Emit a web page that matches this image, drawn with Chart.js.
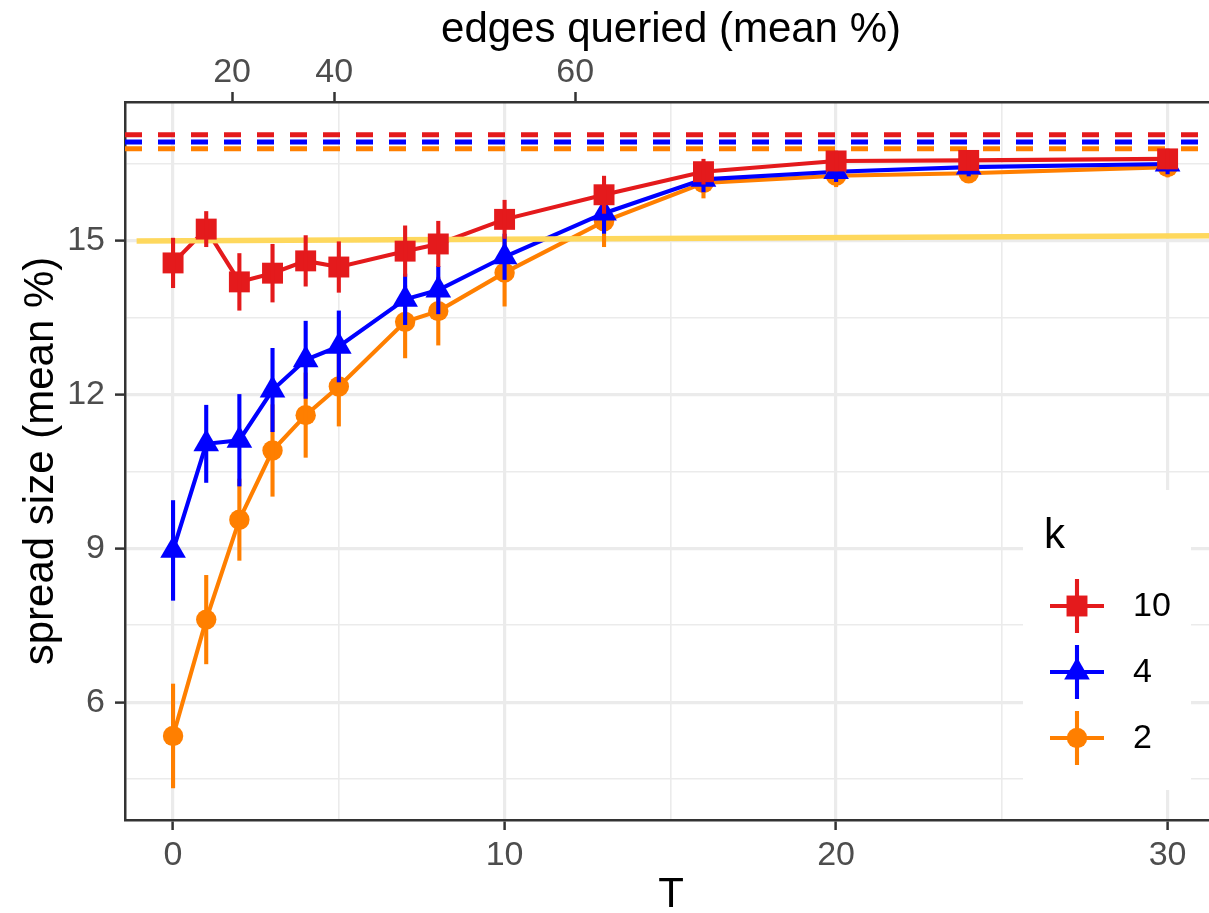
<!DOCTYPE html>
<html>
<head>
<meta charset="utf-8">
<script src="https://cdn.jsdelivr.net/npm/chart.js@4.4.1/dist/chart.umd.min.js"></script>
<style>
  html, body { margin: 0; padding: 0; background: #fff; overflow: hidden; }
  #wrap { position: relative; width: 1209px; height: 913px; overflow: hidden; }
  #c { display: block; }
</style>
</head>
<body>
<div id="wrap"><canvas id="c" width="1217" height="913"></canvas></div>
<script>
// ── data ───────────────────────────────────────────────
const T = [0, 1, 2, 3, 4, 5, 7, 8, 10, 13, 16, 20, 24, 30];

const k10    = [14.57, 15.23, 14.20, 14.37, 14.61, 14.49, 14.80, 14.94, 15.42, 15.90, 16.35, 16.56, 16.57, 16.60];
const k10Err = [0.49, 0.35, 0.56, 0.57, 0.50, 0.50, 0.50, 0.45, 0.38, 0.37, 0.25, 0.20, 0.19, 0.20];
const k4     = [8.96, 11.04, 11.11, 12.09, 12.68, 12.94, 13.86, 14.04, 14.69, 15.54, 16.20, 16.35, 16.44, 16.50];
const k4Err  = [0.98, 0.76, 0.90, 0.82, 0.76, 0.70, 0.50, 0.47, 0.45, 0.40, 0.25, 0.20, 0.18, 0.20];
const k2     = [5.34, 7.61, 9.56, 10.91, 11.60, 12.16, 13.42, 13.63, 14.38, 15.38, 16.13, 16.27, 16.32, 16.44];
const k2Err  = [1.02, 0.87, 0.80, 0.90, 0.83, 0.78, 0.71, 0.67, 0.66, 0.50, 0.30, 0.22, 0.18, 0.20];

// upper reference levels (dashed), one per k
const refLevel = { k10: 17.07, k4: 16.93, k2: 16.80 };

// yellow baseline
const baseX = [-1.1, 31.49];
const baseY = [15.0, 15.1];

// axes
const xMin = -1.45, xMax = 31.49;
const yMin = 3.70,  yMax = 17.71;
const xMajor = [0, 10, 20, 30];
const xMinor = [5, 15, 25];
const yMajor = [6, 9, 12, 15];
const yMinor = [4.5, 7.5, 10.5, 13.5, 16.5];

// top axis: edges queried (mean %) at T positions
const edgesPos    = [1.78, 4.86, 12.13];
const edgesLabels = ['20', '40', '60'];

const legendKeys = ['10', '4', '2'];

// ── styling ────────────────────────────────────────────
const FONT = '"Liberation Sans", Arial, sans-serif';
const COL = { k10: '#E41A1C', k4: '#0000FF', k2: '#FF7F00', base: '#FED85D', axis: '#333333', grid: '#EBEBEB', tick: '#4D4D4D' };
const MARK = { k10: ['rect', 14.8], k4: ['triangle', 14.8], k2: ['circle', 10.2] };
const LW = 4.1;

const pts = (xs, ys) => xs.map((x, i) => ({ x, y: ys[i] }));

function lineDs(key, ys, order) {
  return { data: pts(T, ys), borderColor: COL[key], borderWidth: LW, pointRadius: 0, tension: 0, order };
}
function pointDs(key, ys, err, order) {
  return {
    data: pts(T, ys), showLine: false, err,
    backgroundColor: COL[key], borderColor: COL[key],
    pointStyle: MARK[key][0], pointRadius: MARK[key][1], pointHoverRadius: MARK[key][1],
    pointBorderWidth: 0, order
  };
}
function refDs(key, order) {
  return { data: pts([xMin, xMax], [refLevel[key], refLevel[key]]), borderColor: COL[key], borderWidth: 5,
    borderDash: [17, 16], pointRadius: 0, order };
}

// ── plugins ────────────────────────────────────────────
const errBars = {
  id: 'errBars',
  afterDatasetDraw(chart, args) {
    const ds = chart.data.datasets[args.index];
    if (!ds.err) return;
    const { ctx, scales: { x, y } } = chart;
    ctx.save();
    ctx.strokeStyle = ds.borderColor;
    ctx.lineWidth = LW;
    ds.data.forEach((p, i) => {
      const px = x.getPixelForValue(p.x);
      ctx.beginPath();
      ctx.moveTo(px, y.getPixelForValue(p.y - ds.err[i]));
      ctx.lineTo(px, y.getPixelForValue(p.y + ds.err[i]));
      ctx.stroke();
    });
    ctx.restore();
  }
};

function drawMarker(ctx, style, x, y, r) {
  ctx.beginPath();
  if (style === 'rect') {
    const s = Math.SQRT1_2 * r;
    ctx.rect(x - s, y - s, 2 * s, 2 * s);
  } else if (style === 'triangle') {
    ctx.moveTo(x, y - r);
    ctx.lineTo(x + r * Math.sin(2 * Math.PI / 3), y + r * 0.5);
    ctx.lineTo(x - r * Math.sin(2 * Math.PI / 3), y + r * 0.5);
    ctx.closePath();
  } else {
    ctx.arc(x, y, r, 0, Math.PI * 2);
  }
  ctx.fill();
}

// legend drawn inside the panel, like ggplot's legend.position
const kLegend = {
  id: 'kLegend',
  afterDraw(chart) {
    const { ctx } = chart;
    const box = { l: 1023, t: 490, r: 1191, b: 790 };
    ctx.save();
    ctx.fillStyle = '#fff';
    ctx.fillRect(box.l, box.t, box.r - box.l, box.b - box.t);
    ctx.fillStyle = '#000';
    ctx.textBaseline = 'middle';
    ctx.font = `42px ${FONT}`;
    ctx.fillText('k', 1044, 536);
    ['k10', 'k4', 'k2'].forEach((key, i) => {
      const cy = 606 + i * 66, cx = 1077;
      ctx.strokeStyle = COL[key];
      ctx.fillStyle = COL[key];
      ctx.lineWidth = LW;
      ctx.beginPath();
      ctx.moveTo(cx - 27, cy); ctx.lineTo(cx + 27, cy);
      ctx.moveTo(cx, cy - 27); ctx.lineTo(cx, cy + 27);
      ctx.stroke();
      drawMarker(ctx, MARK[key][0], cx, cy, MARK[key][1]);
      ctx.fillStyle = '#000';
      ctx.font = `34px ${FONT}`;
      ctx.fillText(legendKeys[i], 1133, cy + 1);
    });
    ctx.restore();
  }
};

// ── chart ──────────────────────────────────────────────
const tickFont = { family: FONT, size: 34 };
const titleFont = { family: FONT, size: 42, lineHeight: 1 };
const isMajor = (arr, c) => c.tick && arr.includes(c.tick.value);

new Chart(document.getElementById('c'), {
  type: 'line',
  data: {
    datasets: [
      refDs('k10', 12), refDs('k4', 11), refDs('k2', 10),
      lineDs('k10', k10, 7), lineDs('k4', k4, 8), lineDs('k2', k2, 9),
      { data: pts(baseX, baseY), borderColor: COL.base, borderWidth: 5.5, pointRadius: 0, order: 6 },
      pointDs('k10', k10, k10Err, 3), pointDs('k4', k4, k4Err, 4), pointDs('k2', k2, k2Err, 5),
    ]
  },
  options: {
    responsive: false, animation: false, events: [],
    layout: { padding: 0, autoPadding: false },
    plugins: { legend: { display: false }, tooltip: { enabled: false } },
    scales: {
      x: {
        type: 'linear', position: 'bottom', min: xMin, max: xMax,
        afterBuildTicks: s => { s.ticks = [...xMajor, ...xMinor].sort((a, b) => a - b).map(v => ({ value: v })); },
        afterFit: s => { s.height = 93; },
        ticks: { autoSkip: false, maxRotation: 0, padding: 5, color: COL.tick, font: tickFont,
          callback: v => xMajor.includes(v) ? String(v) : '' },
        grid: { color: COL.grid, lineWidth: c => isMajor(xMajor, c) ? 3.2 : 1.6, tickLength: 10, tickWidth: 2.5,
          tickColor: c => isMajor(xMajor, c) ? COL.axis : 'rgba(0,0,0,0)' },
        border: { color: COL.axis, width: 2.5 },
        title: { display: true, text: 'T', color: '#000', font: titleFont, padding: { top: 0, bottom: -3 } }
      },
      x2: {
        type: 'linear', position: 'top', min: xMin, max: xMax,
        afterBuildTicks: s => { s.ticks = edgesPos.map(v => ({ value: v })); },
        afterFit: s => { s.height = 102; },
        ticks: { autoSkip: false, maxRotation: 0, padding: -1, color: COL.tick, font: tickFont,
          callback: (v, i) => edgesLabels[i] },
        grid: { drawOnChartArea: false, tickLength: 10, tickWidth: 2.5, tickColor: COL.axis },
        border: { color: COL.axis, width: 2.5 },
        title: { display: true, text: 'edges queried (mean %)', color: '#000', font: titleFont, padding: { top: 9, bottom: 0 } }
      },
      y: {
        type: 'linear', position: 'left', min: yMin, max: yMax,
        afterBuildTicks: s => { s.ticks = [...yMajor, ...yMinor].sort((a, b) => a - b).map(v => ({ value: v })); },
        afterFit: s => { s.width = 125; },
        ticks: { autoSkip: false, padding: 10, color: COL.tick, font: tickFont,
          callback: v => yMajor.includes(v) ? String(v) : '' },
        grid: { color: COL.grid, lineWidth: c => isMajor(yMajor, c) ? 3.2 : 1.6, tickLength: 10, tickWidth: 2.5,
          tickColor: c => isMajor(yMajor, c) ? COL.axis : 'rgba(0,0,0,0)' },
        border: { color: COL.axis, width: 2.5 },
        title: { display: true, text: 'spread size (mean %)', color: '#000', font: titleFont, padding: { top: 20, bottom: 0 } }
      }
    }
  },
  plugins: [errBars, kLegend]
});
</script>
</body>
</html>
